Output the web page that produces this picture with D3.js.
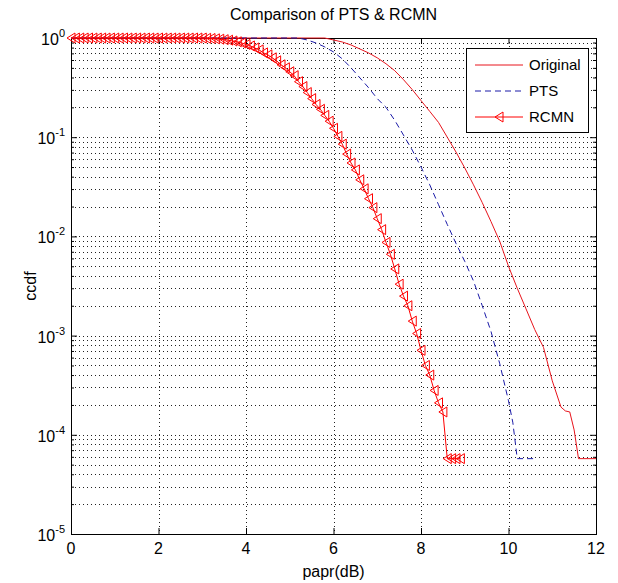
<!DOCTYPE html>
<html>
<head>
<meta charset="utf-8">
<script src="https://cdn.jsdelivr.net/npm/d3@7/dist/d3.min.js"></script>
<style>
  body { margin: 0; background: #fff; }
  text { font-family: "Liberation Sans", Arial, Helvetica, sans-serif; fill: #000; }
</style>
</head>
<body>
<svg id="chart"></svg>
<script>
// chart size
var width = 618;
var height = 583;
var margin = {top: 38, right: 22, bottom: 49, left: 71};

// ---- data ----
var xTicks = [0, 2, 4, 6, 8, 10, 12];
var yDecades = [1e-5, 1e-4, 1e-3, 1e-2, 1e-1, 1];
var yExponents = ['-5', '-4', '-3', '-2', '-1', '0'];

// Original (no coding)
var origX = [0, 5.8, 6.0, 6.2, 6.4, 6.6, 6.8, 7.0, 7.2, 7.4, 7.6, 7.8, 8.0, 8.2, 8.4, 8.6, 8.8, 9.0, 9.2,
  9.4, 9.6, 9.8, 10.0, 10.2, 10.4, 10.6, 10.8, 11.0, 11.2, 11.3, 11.4, 11.5, 11.6, 12.0];
var origY = [1, 1, 0.955, 0.912, 0.851, 0.776, 0.708, 0.631, 0.550, 0.468, 0.380, 0.302, 0.234, 0.182,
  0.141, 0.100, 0.0708, 0.0490, 0.0331, 0.0219, 0.0141, 0.0089, 0.0050, 0.0030, 0.00186, 0.00115,
  0.00076, 0.00035, 0.00019, 0.000174, 0.00017, 0.000112, 0.0000575, 0.0000575];

// PTS
var ptsX = [0, 5.2, 5.4, 5.6, 5.8, 6.0, 6.2, 6.4, 6.6, 6.8, 7.0, 7.2, 7.4, 7.6, 7.8, 8.0, 8.2, 8.4, 8.6,
  8.8, 9.0, 9.2, 9.4, 9.6, 9.8, 10.0, 10.1, 10.2, 10.6];
var ptsY = [1, 1, 0.955, 0.891, 0.813, 0.724, 0.617, 0.501, 0.398, 0.316, 0.245, 0.200, 0.148, 0.105,
  0.0741, 0.0501, 0.0331, 0.0209, 0.0132, 0.0085, 0.0056, 0.00355, 0.0020, 0.0011, 0.00052, 0.00022,
  0.000132, 0.0000575, 0.0000575];

// RCMN (one sample every 0.1 dB)
var rcmnX = [0, 0.1, 0.2, 0.3, 0.4, 0.5, 0.6, 0.7, 0.8, 0.9, 1, 1.1, 1.2, 1.3, 1.4, 1.5, 1.6, 1.7, 1.8, 1.9,
  2, 2.1, 2.2, 2.3, 2.4, 2.5, 2.6, 2.7, 2.8, 2.9, 3, 3.1, 3.2, 3.3, 3.4, 3.5, 3.6, 3.7, 3.8, 3.9,
  4, 4.1, 4.2, 4.3, 4.4, 4.5, 4.6, 4.7, 4.8, 4.9, 5, 5.1, 5.2, 5.3, 5.4, 5.5, 5.6, 5.7, 5.8, 5.9,
  6, 6.1, 6.2, 6.3, 6.4, 6.5, 6.6, 6.7, 6.8, 6.9, 7, 7.1, 7.2, 7.3, 7.4, 7.5, 7.6, 7.7, 7.8, 7.9,
  8, 8.1, 8.2, 8.3, 8.4, 8.5, 8.6, 8.7, 8.8, 8.9];
var rcmnY = [1, 1, 1, 1, 1, 1, 1, 1, 1, 1, 1, 1, 1, 1, 1, 1, 1, 1, 1, 1,
  1, 1, 1, 1, 1, 1, 1, 1, 1, 1, 1, 0.993, 0.989, 0.982, 0.973, 0.962, 0.951, 0.933, 0.916, 0.891,
  0.861, 0.832, 0.794, 0.759, 0.708, 0.676, 0.631, 0.589, 0.537, 0.501, 0.457, 0.417, 0.363, 0.324, 0.282, 0.245, 0.214, 0.191, 0.166, 0.145,
  0.123, 0.102, 0.0851, 0.0676, 0.0550, 0.0468, 0.0372, 0.0302, 0.0240, 0.0195, 0.0151, 0.0117, 0.0087, 0.0066, 0.0047, 0.0033, 0.0025, 0.0020, 0.0014, 0.00105,
  0.00071, 0.00050, 0.00040, 0.00028, 0.00021, 0.00017, 0.0000575, 0.0000575, 0.0000575, 0.0000575];

var series = [
  {name: 'Original', x: origX, y: origY, color: '#e8141c', dash: null, marker: false},
  {name: 'PTS', x: ptsX, y: ptsY, color: '#1a1aa8', dash: '6,4', marker: false},
  {name: 'RCMN', x: rcmnX, y: rcmnY, color: '#ff0000', dash: null, marker: true}
];

// ---- scales ----
var x0 = margin.left, x1 = width - margin.right;
var y0 = height - margin.bottom, y1 = margin.top;

var scaleX = d3.scaleLinear().domain([0, 12]).range([x0, x1]);
var scaleY = d3.scaleLog().domain([1e-5, 1]).range([y0, y1]);

// minor log positions 2..9 in each decade
var yMinor = [];
yDecades.slice(0, 5).forEach(function(d) {
  for (var k = 2; k <= 9; k++) yMinor.push(d * k);
});

var svg = d3.select('#chart')
  .attr('width', width)
  .attr('height', height);

// ---- grid (dotted) ----
var grid = svg.append('g').attr('stroke', '#222').attr('stroke-width', 1)
  .attr('stroke-dasharray', '1,3').attr('fill', 'none');

grid.selectAll('line.gx')
  .data(xTicks.slice(1, -1))
  .enter().append('line')
    .attr('x1', d => Math.round(scaleX(d)) + 0.5).attr('x2', d => Math.round(scaleX(d)) + 0.5)
    .attr('y1', y1).attr('y2', y0);

grid.selectAll('line.gy')
  .data(yDecades.slice(1, -1).concat(yMinor))
  .enter().append('line')
    .attr('x1', x0).attr('x2', x1)
    .attr('y1', d => Math.round(scaleY(d)) + 0.5).attr('y2', d => Math.round(scaleY(d)) + 0.5);

// ---- axes: ticks pointing inward on all four sides ----
function noLabels(g) { g.selectAll('text').remove(); g.select('.domain').remove(); }

svg.append('g').attr('transform', 'translate(0,' + y0 + ')')
  .call(d3.axisBottom(scaleX).tickValues(xTicks).tickSize(-6)).call(noLabels);
svg.append('g').attr('transform', 'translate(0,' + y1 + ')')
  .call(d3.axisTop(scaleX).tickValues(xTicks).tickSize(-6)).call(noLabels);
svg.append('g').attr('transform', 'translate(' + x0 + ',0)')
  .call(d3.axisLeft(scaleY).tickValues(yDecades).tickSize(-6)).call(noLabels);
svg.append('g').attr('transform', 'translate(' + x0 + ',0)')
  .call(d3.axisLeft(scaleY).tickValues(yMinor).tickSize(-3)).call(noLabels);
svg.append('g').attr('transform', 'translate(' + x1 + ',0)')
  .call(d3.axisRight(scaleY).tickValues(yDecades).tickSize(-6)).call(noLabels);
svg.append('g').attr('transform', 'translate(' + x1 + ',0)')
  .call(d3.axisRight(scaleY).tickValues(yMinor).tickSize(-3)).call(noLabels);

svg.append('rect')
  .attr('x', x0 + 0.5).attr('y', y1 + 0.5)
  .attr('width', x1 - x0).attr('height', y0 - y1)
  .attr('fill', 'none').attr('stroke', '#000').attr('stroke-width', 1);

// tick labels
svg.selectAll('text.xt')
  .data(xTicks)
  .enter().append('text')
    .attr('x', d => scaleX(d)).attr('y', y0 + 20)
    .attr('text-anchor', 'middle').attr('font-size', 16)
    .text(d => d);

var yt = svg.selectAll('text.yt')
  .data(yDecades)
  .enter().append('text')
    .attr('x', x0 - 6).attr('y', d => scaleY(d) + 7)
    .attr('text-anchor', 'end').attr('font-size', 16);
yt.append('tspan').text('10');
yt.append('tspan').attr('dy', -8).attr('font-size', 11).text((d, i) => yExponents[i]);

// titles
svg.append('text').attr('x', (x0 + x1) / 2).attr('y', 20)
  .attr('text-anchor', 'middle').attr('font-size', 16)
  .text('Comparison of PTS & RCMN');
svg.append('text').attr('x', (x0 + x1) / 2).attr('y', 577)
  .attr('text-anchor', 'middle').attr('font-size', 16)
  .text('papr(dB)');
svg.append('text')
  .attr('transform', 'translate(36,' + (y0 + y1) / 2 + ') rotate(-90)')
  .attr('text-anchor', 'middle').attr('font-size', 16)
  .text('ccdf');

// ---- curves ----
var line = d3.line()
  .x(d => scaleX(d[0]))
  .y(d => scaleY(d[1]));

var triangle = 'M-4,0L4,-5L4,5Z';

series.forEach(function(s) {
  var pts = s.x.map((v, i) => [v, s.y[i]]);
  svg.append('path')
    .datum(pts)
    .attr('d', line)
    .attr('fill', 'none')
    .attr('stroke', s.color)
    .attr('stroke-width', 1)
    .attr('stroke-dasharray', s.dash);
  if (s.marker) {
    svg.append('g').selectAll('path')
      .data(pts)
      .enter().append('path')
        .attr('d', triangle)
        .attr('transform', d => 'translate(' + scaleX(d[0]) + ',' + scaleY(d[1]) + ')')
        .attr('fill', 'none')
        .attr('stroke', s.color)
        .attr('stroke-width', 1);
  }
});

// ---- legend ----
var legend = svg.append('g').attr('transform', 'translate(466,48)');
legend.append('rect')
  .attr('x', 0.5).attr('y', 0.5).attr('width', 122).attr('height', 84)
  .attr('fill', '#fff').attr('stroke', '#000');

var items = legend.selectAll('g.item')
  .data(series)
  .enter().append('g')
    .attr('transform', (d, i) => 'translate(0,' + (17 + i * 26) + ')');
items.append('line')
  .attr('x1', 9).attr('x2', 57).attr('y1', 0).attr('y2', 0)
  .attr('stroke', d => d.color).attr('stroke-dasharray', d => d.dash);
items.filter(d => d.marker).append('path')
  .attr('d', triangle).attr('transform', 'translate(33,0)')
  .attr('fill', 'none').attr('stroke', d => d.color);
items.append('text')
  .attr('x', 63).attr('y', 5).attr('font-size', 15)
  .text(d => d.name);
</script>
</body>
</html>
